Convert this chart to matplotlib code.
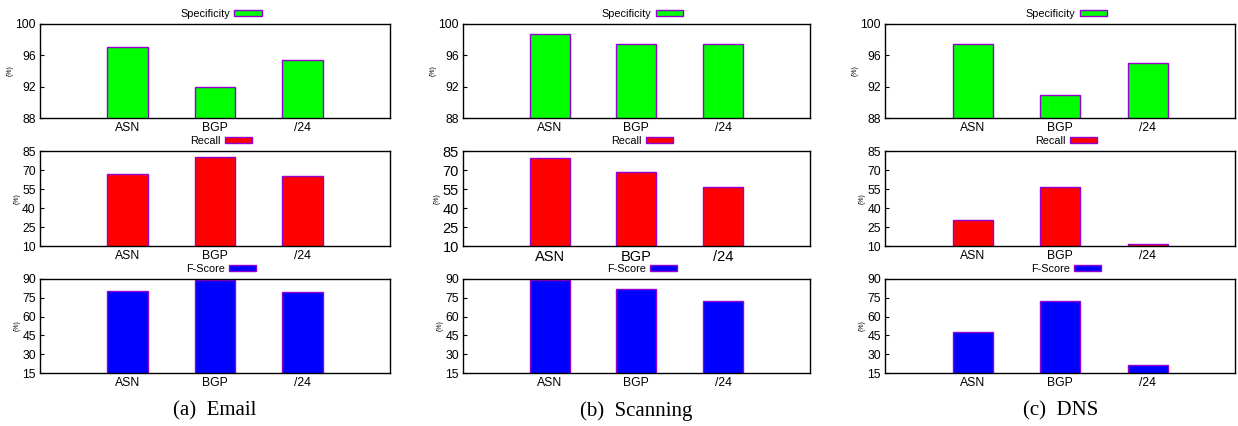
import matplotlib
matplotlib.use('Agg')
import matplotlib.pyplot as plt
from matplotlib.patches import Patch

categories = ['ASN', 'BGP', '/24']

email_spec = [97.0, 92.0, 95.4]
email_recall = [67.2, 80.3, 65.6]
email_fscore = [80.4, 89.2, 79.3]

scan_spec = [98.7, 97.5, 97.5]
scan_recall = [79.2, 68.4, 56.2]
scan_fscore = [89.2, 81.8, 72.4]

dns_spec = [97.4, 90.9, 95.0]
dns_recall = [30.9, 56.5, 11.8]
dns_fscore = [47.4, 72.7, 21.1]

metrics = ['Specificity', 'Recall', 'F-Score']
captions = ['(a)  Email', '(b)  Scanning', '(c)  DNS']
spec_ticks = [88, 92, 96, 100]
recall_ticks = [10, 25, 40, 55, 70, 85]
fscore_ticks = [15, 30, 45, 60, 75, 90]

colors = ['#00ff00', '#ff0000', '#0000ff']
edge = '#9400d3'

columns = [
    [email_spec, email_recall, email_fscore],
    [scan_spec, scan_recall, scan_fscore],
    [dns_spec, dns_recall, dns_fscore],
]
row_ticks = [spec_ticks, recall_ticks, fscore_ticks]

plt.rcParams['font.family'] = ['Liberation Sans', 'DejaVu Sans']

fig = plt.figure(figsize=(12.38, 4.26), dpi=100)

col_left = [0.0323, 0.374, 0.715]
col_width = [0.2827, 0.280, 0.2827]
row_bottom = [0.723, 0.4225, 0.1244]
row_height = [0.2207, 0.223, 0.2207]

for c, data in enumerate(columns):
    for r, vals in enumerate(data):
        ax = fig.add_axes([col_left[c], row_bottom[r], col_width[c], row_height[r]])
        x = range(1, len(categories) + 1)
        ax.bar(x, vals, width=0.46, color=colors[r], edgecolor=edge, linewidth=1.0,
               label=metrics[r])
        ticks = row_ticks[r]
        ax.set_ylim(ticks[0], ticks[-1])
        ax.set_yticks(ticks)
        ax.set_xlim(0, 4)
        ax.set_xticks(list(x))
        ax.set_xticklabels(categories)
        fs = 10.5 if (c == 1 and r == 1) else 8.8
        ax.tick_params(axis='x', length=0, labelsize=fs, pad=3)
        ax.tick_params(axis='y', direction='in', length=3, width=0.8, labelsize=fs, pad=3)
        for s in ax.spines.values():
            s.set_linewidth(1.0)
        ax.set_ylabel('(%)', fontsize=5, labelpad=1)
        handle = Patch(facecolor=colors[r], edgecolor=edge, linewidth=1.0)
        ax.legend([handle], [metrics[r]], loc='center', bbox_to_anchor=(0.517, 1.106),
                  frameon=False, markerfirst=False, fontsize=7.8, handlelength=2.5,
                  handleheight=0.45, handletextpad=0.4, borderpad=0.0, borderaxespad=0.0)
    fig.text(col_left[c] + col_width[c] / 2, 0.036, captions[c], ha='center', va='center',
             fontsize=15, family='Liberation Serif')

fig.savefig('out.png', dpi=100)
